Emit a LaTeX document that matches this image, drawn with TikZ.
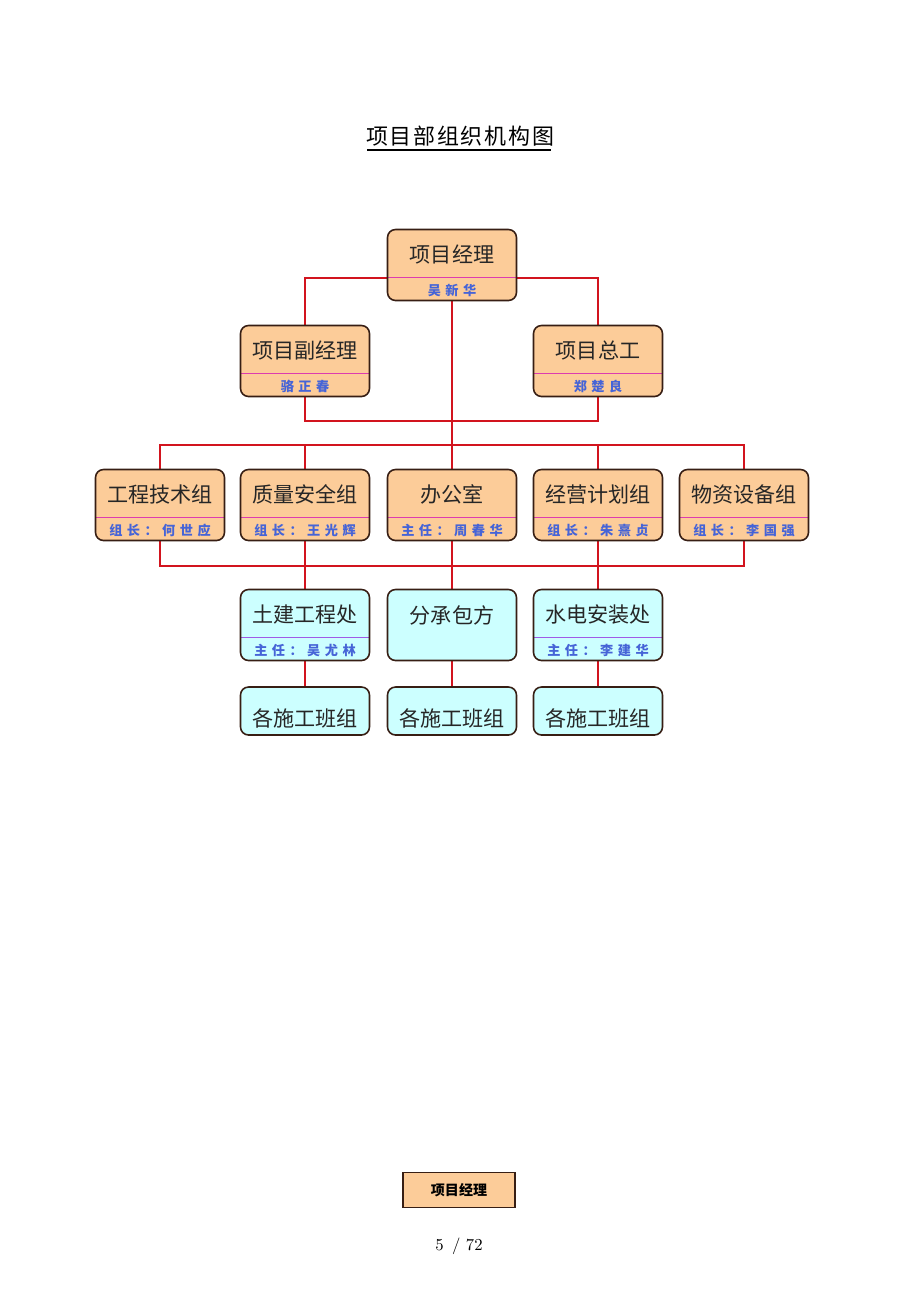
\documentclass[tikz,border=0pt]{standalone}
\usepackage{fontspec}
\newfontfamily\cjk{Noto Sans CJK SC}
\newfontfamily\cjkname[LetterSpace=34]{Noto Sans CJK SC}
\newfontfamily\cjktitle[LetterSpace=8]{Noto Sans CJK SC}
\usepackage{tikz}
\usetikzlibrary{calc,shapes,backgrounds,positioning}
\definecolor{orangebox}{RGB}{252,204,153}
\definecolor{cyanbox}{RGB}{204,255,255}
\definecolor{redline}{RGB}{210,20,30}
\definecolor{pinkline}{RGB}{220,60,175}
\definecolor{purpleline}{RGB}{160,90,230}
\definecolor{bluename}{RGB}{70,100,215}
\definecolor{boxedge}{RGB}{55,30,20}

\begin{document}
\begin{tikzpicture}[x=0.02cm,y=-0.02cm]

           \tikzstyle{link}=[draw=redline,line width=1.4pt]
           \tikzstyle{obox}=[draw=boxedge,line width=0.9pt,fill=orangebox,rounded corners=0.16cm,
                             minimum width=2.58cm,minimum height=1.42cm,inner sep=0pt]
           \tikzstyle{cbox}=[obox,fill=cyanbox]
           \tikzstyle{odiv}=[path picture={\draw[pinkline,line width=1pt]
                ($(path picture bounding box.north west)+(0,48)$) -- ($(path picture bounding box.north east)+(0,48)$);}]
           \tikzstyle{cdiv}=[path picture={\draw[purpleline,line width=1pt]
                ($(path picture bounding box.north west)+(0,48)$) -- ($(path picture bounding box.north east)+(0,48)$);}]
           \tikzstyle{ttl}=[font=\cjk\fontsize{12}{12}\selectfont,text=black!85,inner sep=0pt]
           \tikzstyle{nm}=[font=\cjkname\bfseries\fontsize{7.5}{7.5}\selectfont,text=bluename,inner sep=0pt]

    \useasboundingbox (0,0) rectangle (920,1302);

    % title
    \node[font=\cjktitle\fontsize{12.5}{12.5}\selectfont,inner sep=1pt] (T) at (460,136) {项目部组织机构图};
    \draw[line width=0.9pt] (367,150) -- (551,150);

    % manager
    \node[obox,odiv] (B1) at (452,265) {};
    \node[ttl] (B1t) at ($(B1.north)+(0,26)$) {项目经理};
    \node[nm]  (B1n) at ($(B1.south)+(0,-11)$) {吴新华};

    \node[obox,odiv] (B2) at (305,361) {};
    \node[ttl] (B2t) at ($(B2.north)+(0,26)$) {项目副经理};
    \node[nm]  (B2n) at ($(B2.south)+(0,-11)$) {骆正春};
    \node[obox,odiv] (B3) at (598,361) {};
    \node[ttl] (B3t) at ($(B3.north)+(0,26)$) {项目总工};
    \node[nm]  (B3n) at ($(B3.south)+(0,-11)$) {郑楚良};

    % groups
    \node[obox,odiv] (C1) at (160,505) {};
    \node[ttl] (C1t) at ($(C1.north)+(0,26)$) {工程技术组};
    \node[nm]  (C1n) at ($(C1.south)+(0,-11)$) {组长：何世应};
    \node[obox,odiv] (C2) at (305,505) {};
    \node[ttl] (C2t) at ($(C2.north)+(0,26)$) {质量安全组};
    \node[nm]  (C2n) at ($(C2.south)+(0,-11)$) {组长：王光辉};
    \node[obox,odiv] (C3) at (452,505) {};
    \node[ttl] (C3t) at ($(C3.north)+(0,26)$) {办公室};
    \node[nm]  (C3n) at ($(C3.south)+(0,-11)$) {主任：周春华};
    \node[obox,odiv] (C4) at (598,505) {};
    \node[ttl] (C4t) at ($(C4.north)+(0,26)$) {经营计划组};
    \node[nm]  (C4n) at ($(C4.south)+(0,-11)$) {组长：朱熹贞};
    \node[obox,odiv] (C5) at (744,505) {};
    \node[ttl] (C5t) at ($(C5.north)+(0,26)$) {物资设备组};
    \node[nm]  (C5n) at ($(C5.south)+(0,-11)$) {组长：李国强};

    % departments
    \node[cbox,cdiv] (D1) at (305,625) {};
    \node[ttl] (D1t) at ($(D1.north)+(0,26)$) {土建工程处};
    \node[nm]  (D1n) at ($(D1.south)+(0,-11)$) {主任：吴尤林};
    \node[cbox] (D2) at (452,625) {};
    \node[ttl] (D2t) at ($(D2.north)+(0,27)$) {分承包方};
    \node[cbox,cdiv] (D3) at (598,625) {};
    \node[ttl] (D3t) at ($(D3.north)+(0,26)$) {水电安装处};
    \node[nm]  (D3n) at ($(D3.south)+(0,-11)$) {主任：李建华};

    % teams
    \node[cbox,minimum height=0.96cm] (E1) at (305,711) {};
    \node[ttl] (E1t) at ($(E1.north)+(0,32)$) {各施工班组};
    \node[cbox,minimum height=0.96cm] (E2) at (452,711) {};
    \node[ttl] (E2t) at ($(E2.north)+(0,32)$) {各施工班组};
    \node[cbox,minimum height=0.96cm] (E3) at (598,711) {};
    \node[ttl] (E3t) at ($(E3.north)+(0,32)$) {各施工班组};

    \coordinate (j1) at (452,278);
    \coordinate (j2) at (452,421);
    \coordinate (bt) at (452,445);
    \coordinate (bb) at (452,566);

    \begin{scope}[on background layer]
    \path[link] (B2.north) |- (j1) -| (B3.north);
    \path[link] (B2.south) |- (j2) -| (B3.south);
    \path[link] (B1.south) -- (C3.north);
    \path[link] (C1.north) |- (C5.north |- bt) -- (C5.north);
    \path[link] (C2.north) -- (C2.north |- bt);
    \path[link] (C4.north) -- (C4.north |- bt);
    \path[link] (C1.south) |- (C5.south |- bb) -- (C5.south);
    \path[link] (C2.south) -- (D1.north);
    \path[link] (C3.south) -- (D2.north);
    \path[link] (C4.south) -- (D3.north);
    \path[link] (D1.south) -- (E1.north);
    \path[link] (D2.south) -- (E2.north);
    \path[link] (D3.south) -- (E3.north);
    \end{scope}

    % second page start
    \node[draw=boxedge,line width=0.9pt,fill=orangebox,minimum width=2.24cm,minimum height=0.7cm,
          font=\cjk\bfseries\fontsize{8}{8}\selectfont] (P1) at (459,1190) {项目经理};
    \node[font=\fontsize{9.5}{9.5}\selectfont] (pg) at (459,1246) {5 \,/ 72};

\end{tikzpicture}
\end{document}
